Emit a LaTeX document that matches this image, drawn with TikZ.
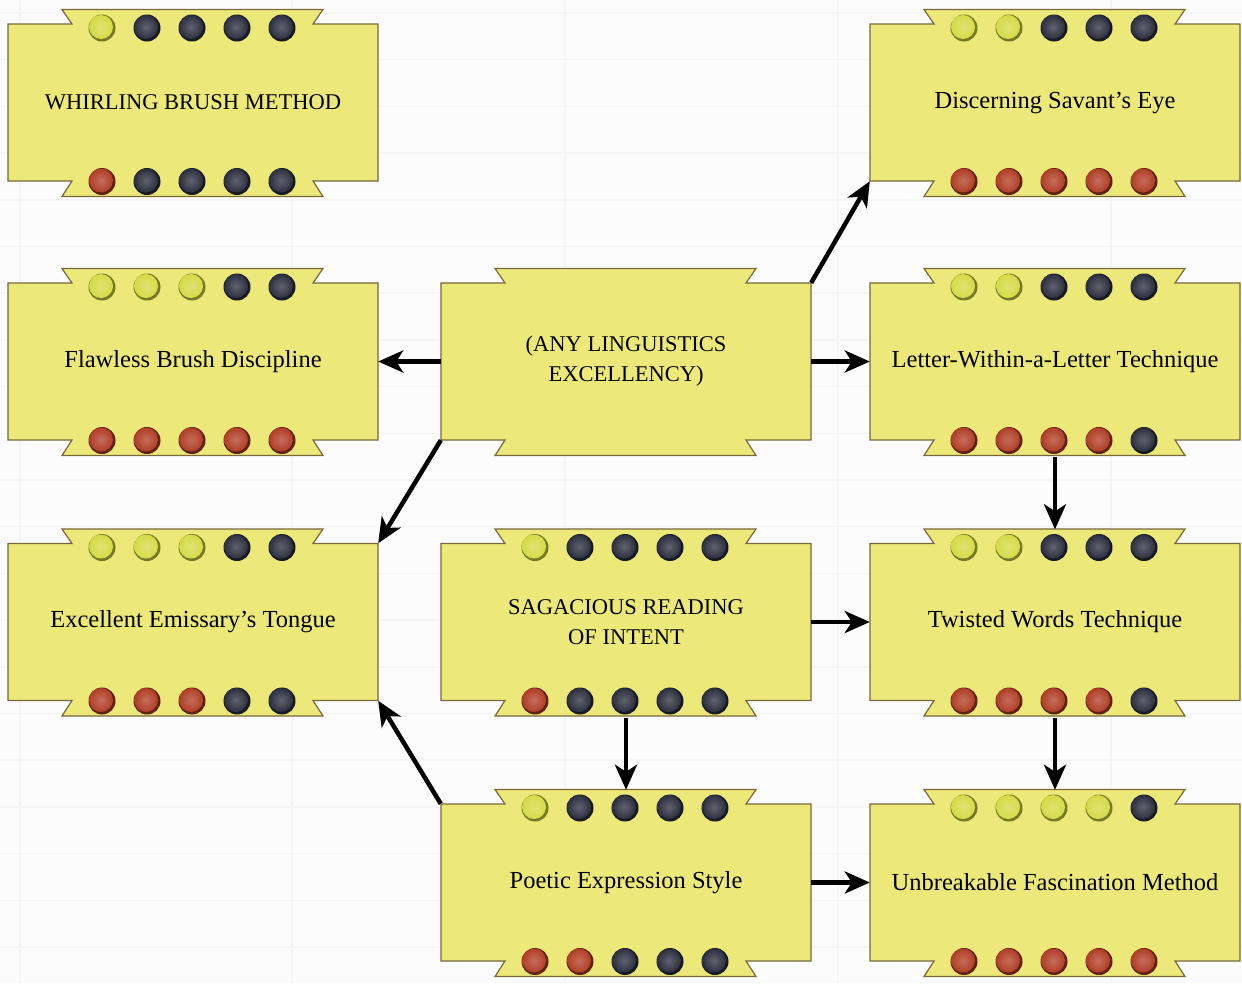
\documentclass[tikz,border=0pt]{standalone}
\usepackage{fontspec}
\setmainfont{Liberation Serif}
\usetikzlibrary{arrows.meta}
\definecolor{boxfill}{RGB}{236,233,122}
\definecolor{boxline}{RGB}{120,104,58}
\definecolor{dotY}{RGB}{214,218,70}
\definecolor{dotD}{RGB}{44,47,62}
\definecolor{dotR}{RGB}{176,62,38}
\definecolor{bg}{RGB}{252,252,252}
\definecolor{gridc}{RGB}{245,245,245}
\tikzset{
  boxshape/.style={fill=boxfill, draw=boxline, line width=1.2pt, line join=miter},
  skilltext/.style={minimum width=370pt, minimum height=157pt, inner sep=0pt, align=center, font=\fontsize{24.5}{30}\selectfont},
  capstext/.style={skilltext, font=\fontsize{22.5}{30}\selectfont},
  link/.style={line width=4.5pt, -{Stealth[length=25pt,width=22pt,inset=7pt]}},
}
\newcommand\skillshape[4]{% name, position, style, text
  \begin{scope}[shift={(#2)}]
    \path[boxshape] (-185,-78.5) -- (-121,-78.5) -- (-131,-93) -- (130,-93) -- (120,-78.5)
      -- (185,-78.5) -- (185,78.5) -- (120,78.5) -- (130,94) -- (-131,94) -- (-121,78.5)
      -- (-185,78.5) -- cycle;
  \end{scope}
  \node[#3] (#1) at (#2) {#4};
}
\newcommand\onedot[2]{% colour letter, position
  \fill[dot#1!55!black] (#2) circle[radius=13.5];
  \shade[inner color=dot#1!75!white, outer color=dot#1] ([shift={(-1,-1)}]#2) circle[radius=12];
}
\newcommand\skilldots[3]{% position, top dots, bottom dots
  \begin{scope}[shift={(#1)}]
    \foreach \c [count=\i] in {#2} {\pgfmathsetmacro\xx{\i*45-136}\onedot{\c}{\xx,-74.5}}
    \foreach \c [count=\i] in {#3} {\pgfmathsetmacro\xx{\i*45-136}\onedot{\c}{\xx,79}}
  \end{scope}
}
\begin{document}
\begin{tikzpicture}[x=1pt,y=-1pt]
\useasboundingbox (0,0) rectangle (1242,983);
\fill[bg] (0,0) rectangle (1242,983);
\foreach \k in {0,...,20} \draw[gridc, line width=1.5pt] (0,13+46.7*\k) -- (1242,13+46.7*\k);
\foreach \x in {20,292,565,838,1111} \draw[gridc, line width=1.5pt] (\x,0) -- (\x,983);

\skillshape{whirl}{193,102.5}{capstext}{WHIRLING BRUSH METHOD}
\skilldots{193,102.5}{Y,D,D,D,D}{R,D,D,D,D}
\skillshape{eye}{1055,102.5}{skilltext}{Discerning Savant’s Eye}
\skilldots{1055,102.5}{Y,Y,D,D,D}{R,R,R,R,R}
\skillshape{flaw}{193,361.5}{skilltext}{Flawless Brush Discipline}
\skilldots{193,361.5}{Y,Y,Y,D,D}{R,R,R,R,R}
\skillshape{any}{626,361.5}{capstext}{(ANY LINGUISTICS\\EXCELLENCY)}
\skillshape{letter}{1055,361.5}{skilltext}{Letter-Within-a-Letter Technique}
\skilldots{1055,361.5}{Y,Y,D,D,D}{R,R,R,R,D}
\skillshape{emis}{193,622}{skilltext}{Excellent Emissary’s Tongue}
\skilldots{193,622}{Y,Y,Y,D,D}{R,R,R,D,D}
\skillshape{sag}{626,622}{capstext}{SAGACIOUS READING\\OF INTENT}
\skilldots{626,622}{Y,D,D,D,D}{R,D,D,D,D}
\skillshape{twist}{1055,622}{skilltext}{Twisted Words Technique}
\skilldots{1055,622}{Y,Y,D,D,D}{R,R,R,R,D}
\skillshape{poet}{626,882.5}{skilltext}{Poetic Expression Style}
\skilldots{626,882.5}{Y,D,D,D,D}{R,R,D,D,D}
\skillshape{unb}{1055,882.5}{skilltext}{Unbreakable Fascination Method}
\skilldots{1055,882.5}{Y,Y,Y,Y,D}{R,R,R,R,R}

\draw[link] (any.north east) -- (eye.south west);
\draw[link] (any.west) -- (flaw.east);
\draw[link] (any.east) -- (letter.west);
\draw[link] (any.south west) -- (emis.north east);
\draw[link, shorten <=17pt, shorten >=14pt] (letter.south) -- (twist.north);
\draw[link] (sag.east) -- (twist.west);
\draw[link, shorten <=17pt, shorten >=14pt] (sag.south) -- (poet.north);
\draw[link, shorten <=17pt, shorten >=14pt] (twist.south) -- (unb.north);
\draw[link] (poet.north west) -- (emis.south east);
\draw[link] (poet.east) -- (unb.west);
\end{tikzpicture}
\end{document}
